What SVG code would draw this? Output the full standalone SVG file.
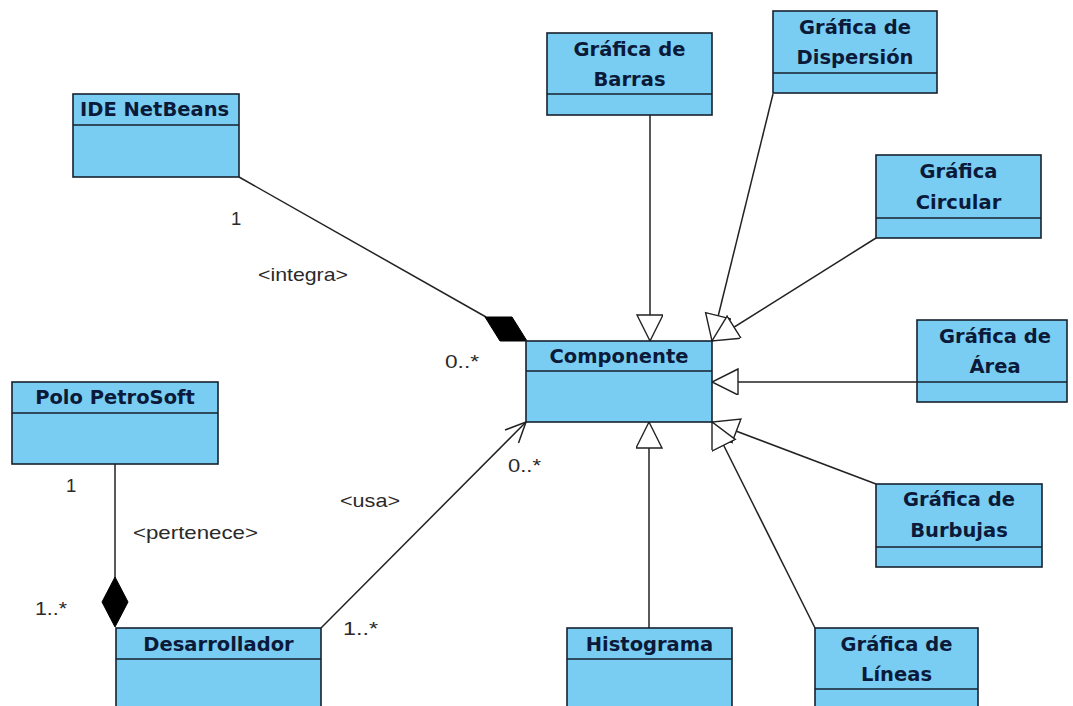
<svg xmlns="http://www.w3.org/2000/svg" width="1073" height="706" viewBox="0 0 1073 706">
  <style>
    .box { fill: #7acdf2; stroke: #17212e; stroke-width: 1.6; }
    .div { stroke: #17212e; stroke-width: 1.6; }
    .hd { font-family: "DejaVu Sans", "Liberation Sans", sans-serif; font-weight: bold; font-size: 19.5px; fill: #0c1a3a; }
    .c { text-anchor: middle; }
    .lbl { font-family: "Liberation Sans", Arial, sans-serif; font-size: 18.5px; fill: #2a2a2a; }
    .edge { stroke: #222; stroke-width: 1.5; fill: none; }
  </style>
  <defs>
    <marker id="gen" markerUnits="userSpaceOnUse" markerWidth="30" markerHeight="30" refX="27" refY="13" orient="auto">
      <path d="M1,0 L27,13 L1,26 Z" fill="#fff" stroke="#222" stroke-width="1.4"/>
    </marker>
  </defs>
  <rect width="1073" height="706" fill="#fff"/>

  <!-- connectors -->
  <g id="connectors">
    <!-- IDE NetBeans composition -->
    <line class="edge" x1="239" y1="177" x2="486" y2="317"/>
    <polygon points="485,317 512,317 527,341 500,341" fill="#000" stroke="#000" stroke-width="1"/>
    <!-- Polo PetroSoft composition -->
    <line class="edge" x1="115" y1="464" x2="115" y2="578"/>
    <polygon points="115,577 128,602 115,627 102,602" fill="#000" stroke="#000" stroke-width="1"/>
    <!-- usa association -->
    <line class="edge" x1="321" y1="628" x2="526" y2="422"/>
    <polyline class="edge" points="505,430 526,422 518.5,443"/>
    <!-- generalizations -->
    <line class="edge" x1="650" y1="115" x2="650" y2="341" marker-end="url(#gen)"/>
    <line class="edge" x1="773" y1="94" x2="712" y2="341" marker-end="url(#gen)"/>
    <line class="edge" x1="876" y1="238" x2="712" y2="341" marker-end="url(#gen)"/>
    <line class="edge" x1="917" y1="382" x2="712" y2="382" marker-end="url(#gen)"/>
    <line class="edge" x1="876" y1="484" x2="712" y2="422" marker-end="url(#gen)"/>
    <line class="edge" x1="815" y1="628" x2="712" y2="422" marker-end="url(#gen)"/>
    <line class="edge" x1="649" y1="628" x2="649" y2="422" marker-end="url(#gen)"/>
    <!-- multiplicities and role names -->
    <text class="lbl" x="231" y="225">1</text>
    <text class="lbl" x="258" y="281" textLength="90" lengthAdjust="spacingAndGlyphs">&lt;integra&gt;</text>
    <text class="lbl" x="445" y="368" textLength="34" lengthAdjust="spacingAndGlyphs">0..*</text>
    <text class="lbl" x="508" y="472" textLength="33" lengthAdjust="spacingAndGlyphs">0..*</text>
    <text class="lbl" x="340" y="507" textLength="60" lengthAdjust="spacingAndGlyphs">&lt;usa&gt;</text>
    <text class="lbl" x="66" y="492">1</text>
    <text class="lbl" x="133" y="539" textLength="125" lengthAdjust="spacingAndGlyphs">&lt;pertenece&gt;</text>
    <text class="lbl" x="35" y="615" textLength="32" lengthAdjust="spacingAndGlyphs">1..*</text>
    <text class="lbl" x="343" y="635" textLength="35" lengthAdjust="spacingAndGlyphs">1..*</text>
  </g>

  <g id="ide-netbeans">
    <rect class="box" x="73" y="94" width="166" height="83"/>
    <line class="div" x1="73" y1="125" x2="239" y2="125"/>
    <text class="hd" x="80" y="116">IDE NetBeans</text>
  </g>

  <g id="grafica-barras">
    <rect class="box" x="547" y="33" width="165" height="82"/>
    <line class="div" x1="547" y1="94" x2="712" y2="94"/>
    <text class="hd c" x="629.5" y="56">Gráfica de</text>
    <text class="hd c" x="629.5" y="86">Barras</text>
  </g>

  <g id="grafica-dispersion">
    <rect class="box" x="773" y="11" width="164" height="82"/>
    <line class="div" x1="773" y1="73" x2="937" y2="73"/>
    <text class="hd c" x="855" y="34">Gráfica de</text>
    <text class="hd c" x="855" y="64">Dispersión</text>
  </g>

  <g id="grafica-circular">
    <rect class="box" x="876" y="155" width="165" height="83"/>
    <line class="div" x1="876" y1="218" x2="1041" y2="218"/>
    <text class="hd c" x="958.5" y="178">Gráfica</text>
    <text class="hd c" x="958.5" y="209">Circular</text>
  </g>

  <g id="grafica-area">
    <rect class="box" x="917" y="320" width="150" height="82"/>
    <line class="div" x1="917" y1="382" x2="1067" y2="382"/>
    <text class="hd c" x="995" y="343">Gráfica de</text>
    <text class="hd c" x="995" y="373">Área</text>
  </g>

  <g id="componente">
    <rect class="box" x="526" y="341" width="186" height="81"/>
    <line class="div" x1="526" y1="371" x2="712" y2="371"/>
    <text class="hd c" x="619" y="363">Componente</text>
  </g>

  <g id="polo-petrosoft">
    <rect class="box" x="12" y="382" width="206" height="82"/>
    <line class="div" x1="12" y1="413" x2="218" y2="413"/>
    <text class="hd c" x="115" y="404">Polo PetroSoft</text>
  </g>

  <g id="grafica-burbujas">
    <rect class="box" x="876" y="484" width="166" height="83"/>
    <line class="div" x1="876" y1="547" x2="1042" y2="547"/>
    <text class="hd c" x="959" y="506">Gráfica de</text>
    <text class="hd c" x="959" y="537">Burbujas</text>
  </g>

  <g id="desarrollador">
    <rect class="box" x="116" y="628" width="205" height="92"/>
    <line class="div" x1="116" y1="659" x2="321" y2="659"/>
    <text class="hd c" x="218.5" y="651">Desarrollador</text>
  </g>

  <g id="histograma">
    <rect class="box" x="567" y="628" width="165" height="92"/>
    <line class="div" x1="567" y1="659" x2="732" y2="659"/>
    <text class="hd c" x="649.5" y="651">Histograma</text>
  </g>

  <g id="grafica-lineas">
    <rect class="box" x="815" y="628" width="163" height="92"/>
    <line class="div" x1="815" y1="689" x2="978" y2="689"/>
    <text class="hd c" x="896.5" y="651">Gráfica de</text>
    <text class="hd c" x="896.5" y="681">Líneas</text>
  </g>
</svg>
